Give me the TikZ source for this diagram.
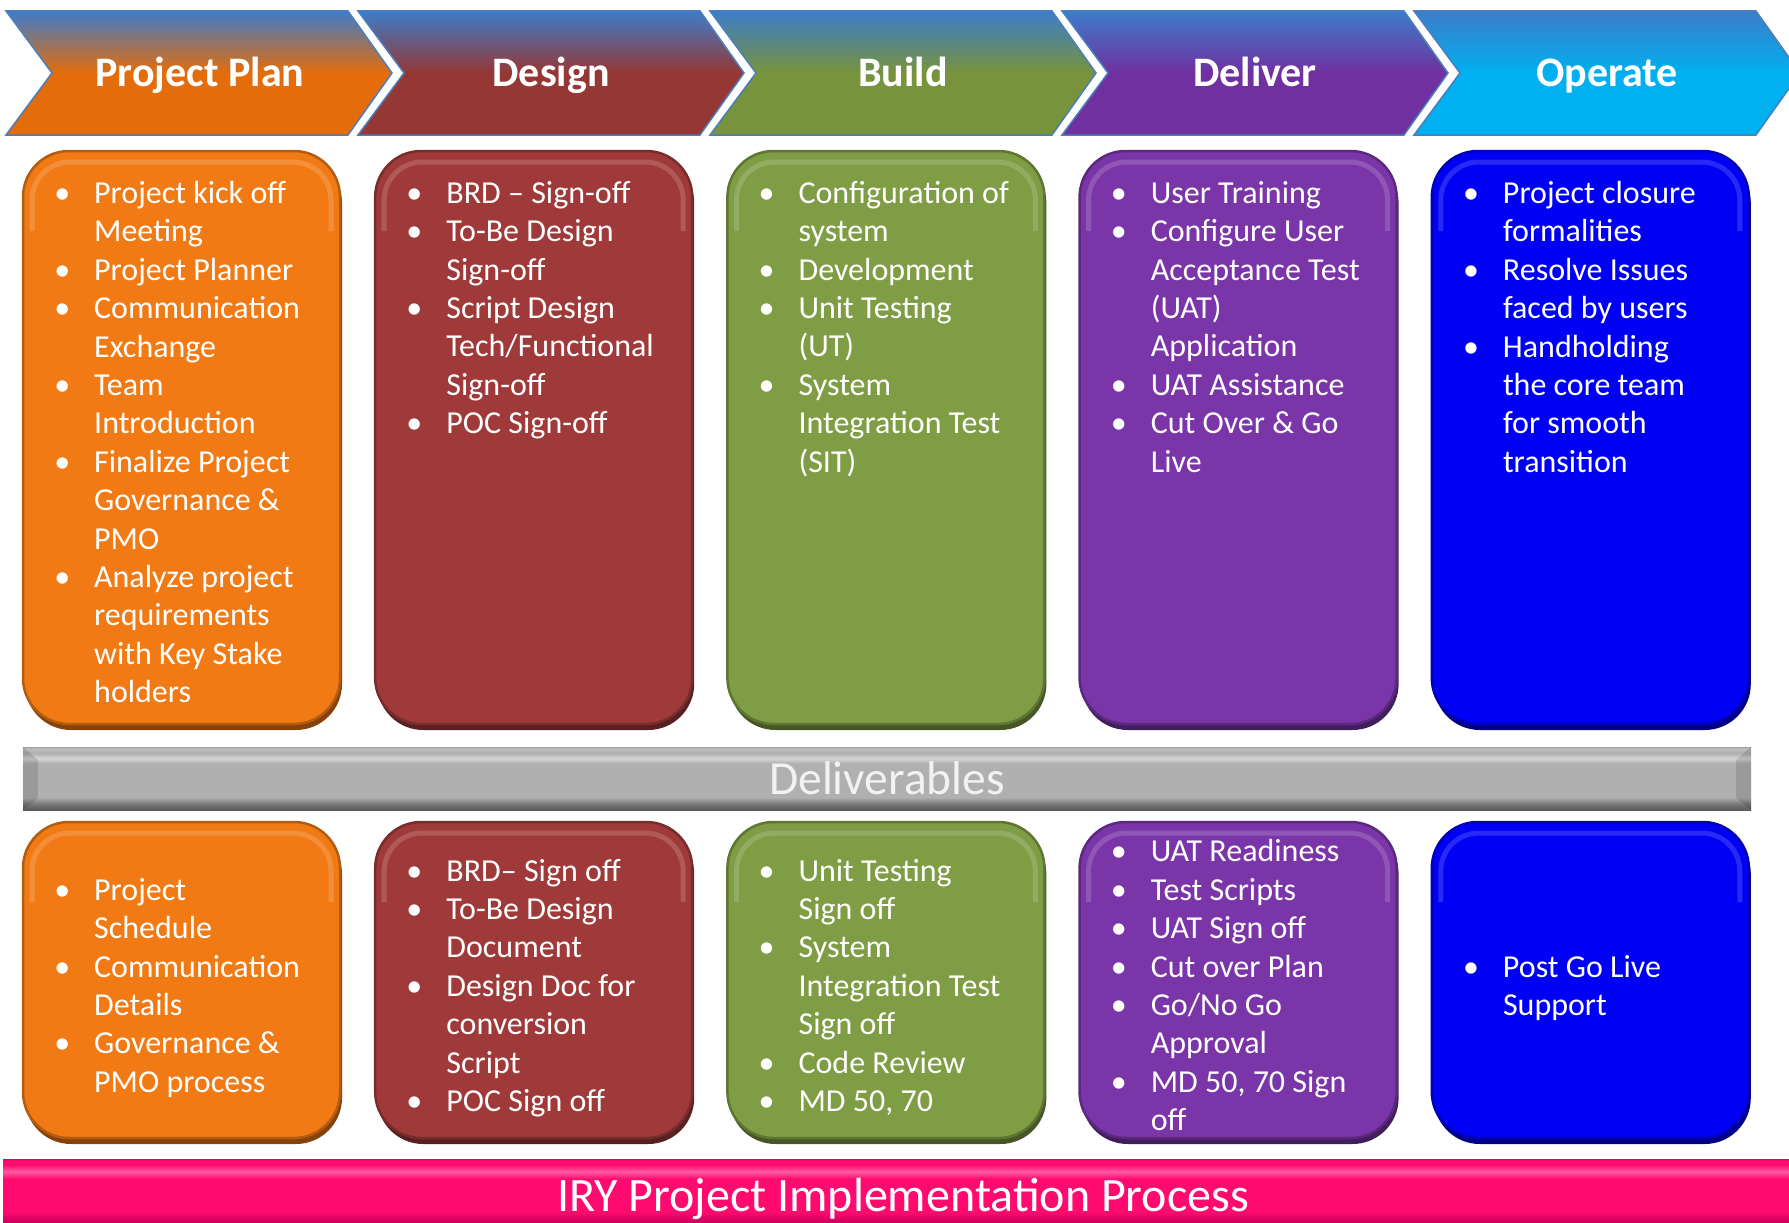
\documentclass[tikz,border=0pt]{standalone}
\usepackage{fontspec}
\setmainfont{Carlito}
\usetikzlibrary{positioning}

\definecolor{chevtop}{HTML}{3D7CC9}
\definecolor{chevline}{HTML}{4A7EBB}
\definecolor{planC}{HTML}{E46C0A}
\definecolor{designC}{HTML}{953735}
\definecolor{buildC}{HTML}{77933C}
\definecolor{deliverC}{HTML}{7030A0}
\definecolor{operateC}{HTML}{00B0F0}
\definecolor{planbox}{HTML}{F27A14}
\definecolor{designbox}{HTML}{A03A3A}
\definecolor{buildbox}{HTML}{7F9D44}
\definecolor{deliverbox}{HTML}{7A36A8}
\definecolor{operatebox}{HTML}{0000F4}
\definecolor{bardark}{HTML}{5A5A5A}
\definecolor{barlow}{HTML}{7A7A7A}
\definecolor{barmid}{HTML}{B0B0B0}
\definecolor{barhi}{HTML}{D6D6D6}
\definecolor{bartop}{HTML}{BDBDBD}
\definecolor{barline}{HTML}{A0A0A0}
\definecolor{bartext}{HTML}{F2F2F2}
\definecolor{pinkdark}{HTML}{9E1050}
\definecolor{pinkdeep}{HTML}{D00060}
\definecolor{pinkmain}{HTML}{FF0A6E}
\definecolor{pinklight}{HTML}{FF5A9E}
\definecolor{pinkline}{HTML}{E8005F}

\pgfdeclareverticalshading{barshade}{100bp}{color(0bp)=(bardark); color(25bp)=(bardark); color(30bp)=(barlow); color(35bp)=(barmid); color(62bp)=(barmid); color(66bp)=(barhi); color(70bp)=(barmid); color(74bp)=(bartop); color(75bp)=(barline); color(100bp)=(barline)}
\pgfdeclareverticalshading{pinkshade}{100bp}{color(0bp)=(pinkdark); color(25bp)=(pinkdark); color(31bp)=(pinkdeep); color(38bp)=(pinkmain); color(61bp)=(pinkmain); color(66bp)=(pinklight); color(71bp)=(pinkmain); color(74bp)=(pinkmain); color(75bp)=(pinkline); color(100bp)=(pinkline)}

\newcommand{\itm}{\llap{•\hspace{24pt}}}

\tikzset{
	phase/.style = {draw=chevline, line width=1.5pt, top color=chevtop, bottom color=#1, middle color=#1},
	phasetitle/.style = {anchor=base, text=white, font=\fontsize{42}{50}\selectfont\bfseries},
	phasebox/.style = {rectangle, rounded corners=46pt, minimum width=317pt, inner sep=0pt, outer sep=0pt,
		fill=#1, draw=#1!75!black, line width=2.5pt,
		preaction={fill=#1!55!black, transform canvas={xshift=2pt, yshift=-6pt}},
		path picture={\draw[white, opacity=.16, line width=5pt, rounded corners=38pt]
			([xshift=9pt, yshift=-80pt]path picture bounding box.north west)
			|- ([xshift=-9pt, yshift=-11pt]path picture bounding box.north east)
			-- ([xshift=-9pt, yshift=-80pt]path picture bounding box.north east);}},
	upbox/.style = {phasebox=#1, minimum height=573pt},
	lowbox/.style = {phasebox=#1, minimum height=316pt},
	items/.style = {align=left, inner sep=0pt, text=white, font=\fontsize{32}{38.4}\selectfont,
		execute at begin node=\strut, execute at end node=\strut},
	lowitems/.style = {items, yshift=-11pt},
	delivbar/.style = {rectangle, minimum width=1728pt, minimum height=63pt, inner sep=0pt,
		shading=barshade, text=bartext, text depth=0pt, font=\fontsize{47.5}{56}\selectfont},
	titlebar/.style = {rectangle, minimum width=1800pt, minimum height=71pt, inner sep=0pt,
		shading=pinkshade, text=white, text depth=0pt, font=\fontsize{48}{56}\selectfont}
}

\begin{document}
\begin{tikzpicture}[x=1pt, y=-1pt]
		\useasboundingbox (0,0) rectangle (1789,1223);
		% phases
		\draw[phase=planC] (6,11) -- ++(342,0) -- ++(44,62) -- ++(-44,62) -- ++(-342,0) -- ++(46,-62) -- cycle;
		\draw[phase=designC] (358,11) -- ++(342,0) -- ++(44,62) -- ++(-44,62) -- ++(-342,0) -- ++(46,-62) -- cycle;
		\draw[phase=buildC] (710,11) -- ++(342,0) -- ++(44,62) -- ++(-44,62) -- ++(-342,0) -- ++(46,-62) -- cycle;
		\draw[phase=deliverC] (1062,11) -- ++(342,0) -- ++(44,62) -- ++(-44,62) -- ++(-342,0) -- ++(46,-62) -- cycle;
		\draw[phase=operateC] (1414,11) -- ++(342,0) -- ++(44,62) -- ++(-44,62) -- ++(-342,0) -- ++(46,-62) -- cycle;
		
		\node[phasetitle] (plan) at (200,86) {Project Plan};
		\node[phasetitle] (design) at (551,86) {Design};
		\node[phasetitle] (build) at (903,86) {Build};
		\node[phasetitle] (deliver) at (1255,86) {Deliver};
		\node[phasetitle] (operate) at (1607,86) {Operate};
		
		% activities
		\node[upbox=planbox] (planup) at (181.5,437.5) {};
		\node[upbox=designbox] (designup) at (533.7,437.5) {};
		\node[upbox=buildbox] (buildup) at (885.9,437.5) {};
		\node[upbox=deliverbox] (deliverup) at (1238.1,437.5) {};
		\node[upbox=operatebox] (operateup) at (1590.3,437.5) {};
		
		\node[items, below right=30pt and 71pt of planup.north west] (planuptext) {\itm Project kick off\\ Meeting\\ \itm Project Planner\\ \itm Communication\\ Exchange\\ \itm Team\\ Introduction\\ \itm Finalize Project\\ Governance \&\\ PMO\\ \itm Analyze project\\ requirements\\ with Key Stake\\ holders};
		\node[items, below right=30pt and 71pt of designup.north west] (designuptext) {\itm BRD – Sign-off\\ \itm To-Be Design\\ Sign-off\\ \itm Script Design\\ Tech/Functional\\ Sign-off\\ \itm POC Sign-off};
		\node[items, below right=30pt and 71pt of buildup.north west] (builduptext) {\itm Configuration of\\ system\\ \itm Development\\ \itm Unit Testing\\ (UT)\\ \itm System\\ Integration Test\\ (SIT)};
		\node[items, below right=30pt and 71pt of deliverup.north west] (deliveruptext) {\itm User Training\\ \itm Configure User\\ Acceptance Test\\ (UAT)\\ Application\\ \itm UAT Assistance\\ \itm Cut Over \& Go\\ Live};
		\node[items, below right=30pt and 71pt of operateup.north west] (operateuptext) {\itm Project closure\\ formalities\\ \itm Resolve Issues\\ faced by users\\ \itm Handholding\\ the core team\\ for smooth\\ transition};
		
		% deliverables
		\node[delivbar] (deliv) at (887,778.5) {Deliverables};
		\fill[black, opacity=.12] (deliv.north west) -- ++(15,13) -- ([shift={(15pt,12pt)}]deliv.south west) -- (deliv.south west) -- cycle;
		\fill[black, opacity=.12] (deliv.north east) -- ++(-15,13) -- ([shift={(-15pt,12pt)}]deliv.south east) -- (deliv.south east) -- cycle;
		
		\node[lowbox=planbox] (planlow) at (181.5,980) {};
		\node[lowbox=designbox] (designlow) at (533.7,980) {};
		\node[lowbox=buildbox] (buildlow) at (885.9,980) {};
		\node[lowbox=deliverbox] (deliverlow) at (1238.1,980) {};
		\node[lowbox=operatebox] (operatelow) at (1590.3,980) {};
		
		\node[lowitems, right=71pt of planlow.west] (planlowtext) {\itm Project\\ Schedule\\ \itm Communication\\ Details\\ \itm Governance \&\\ PMO process};
		\node[lowitems, right=71pt of designlow.west] (designlowtext) {\itm BRD– Sign off\\ \itm To-Be Design\\ Document\\ \itm Design Doc for\\ conversion\\ Script\\ \itm POC Sign off};
		\node[lowitems, right=71pt of buildlow.west] (buildlowtext) {\itm Unit Testing\\ Sign off\\ \itm System\\ Integration Test\\ Sign off\\ \itm Code Review\\ \itm MD 50, 70};
		\node[lowitems, right=71pt of deliverlow.west] (deliverlowtext) {\itm UAT Readiness\\ \itm Test Scripts\\ \itm UAT Sign off\\ \itm Cut over Plan\\ \itm Go/No Go\\ Approval\\ \itm MD 50, 70 Sign\\ off};
		\node[lowitems, right=71pt of operatelow.west] (operatelowtext) {\itm Post Go Live\\ Support};
		
		% title
		\node[titlebar] (process) at (903,1194.5) {IRY Project Implementation Process};
\end{tikzpicture}
\end{document}
